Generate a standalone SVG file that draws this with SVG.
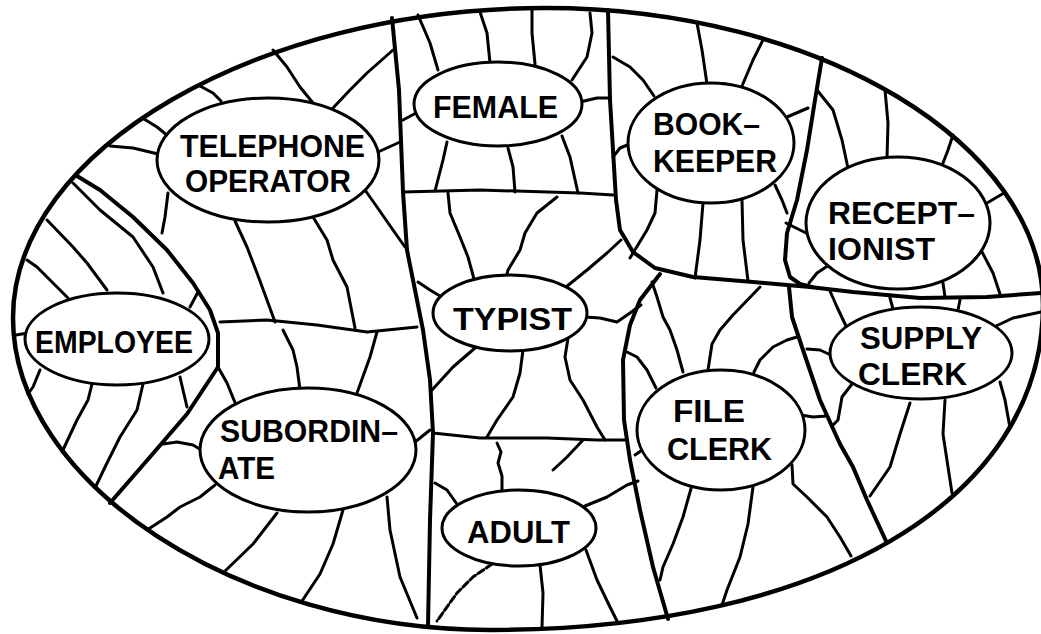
<svg xmlns="http://www.w3.org/2000/svg" width="1041" height="634" viewBox="0 0 1041 634">
<style>
.b{fill:none;stroke:#000;stroke-width:4;stroke-linejoin:round;stroke-linecap:round}
.c{fill:none;stroke:#000;stroke-width:3;stroke-linejoin:round;stroke-linecap:round}
.d{stroke-dasharray:7 3}
.n{fill:#fff;stroke:#000;stroke-width:3}
.t{font-family:"Liberation Sans",Arial,Helvetica,sans-serif;font-weight:bold;font-size:31px;fill:#000}
</style>
<rect width="1041" height="634" fill="#fff"/>
<g id="outline">
<path d="M13,318 C13,150 258,8 545,8 C820,8 1043,145 1043,305 C1043,500 822,630 490,630 C237,630 13,483 13,318 Z" fill="none" stroke="#000" stroke-width="4.5"/>
</g>
<g id="connectors">
<g id="boundaries">
<path class="b" d="M392,18 L399,90 L403,192 L407,250 L414,285 L423,330 L430,380 L433,433 L430,520 L428,626"/>
<path class="b" d="M608,10 L610,100 L613,150 L616,200 L620,230 L633,252 L655,268 L693,277 L753,282 L787,285 L810,287 L853,292 L920,298 L987,297 L1041,293"/>
<path class="b" d="M822,58 L815,100 L807,150 L797,200 L787,233 L785,260 L790,277 L800,284 L812,287"/>
<path class="b" d="M789,287 L792,317 L803,350 L820,400 L840,444 L853,467 L867,500 L886,541"/>
<path class="b" d="M660,274 L640,300 L630,325 L623,360 L624,420 L630,460 L640,510 L653,567 L668,619"/>
<path class="b" d="M77,176 L100,190 L133,217 L167,250 L193,283 L210,310 L218,333 L218,367 L187,414 L150,457 L110,503"/>
<path class="c" d="M220,322 L267,320 L317,325 L367,332 L417,327"/>
<path class="c" d="M403,192 L480,190 L580,193 L613,195"/>
<path class="c" d="M433,433 L480,438 L547,438 L597,440 L625,440"/>
</g>
<g id="cracks">
<path class="c" d="M273,50 L287,67 L300,87 L313,103"/>
<path class="c" d="M200,86 L213,93 L221,101"/>
<path class="c" d="M144,119 L157,127 L168,136"/>
<path class="c" d="M110,146 L133,148 L158,154"/>
<path class="c" d="M393,50 L367,73 L350,90 L333,108"/>
<path class="c" d="M378,152 L400,142"/>
<path class="c" d="M168,193 L165,217 L162,233"/>
<path class="c" d="M235,221 L247,247 L257,273 L267,300 L275,322"/>
<path class="c" d="M313,217 L327,240 L333,260 L347,287 L355,328"/>
<path class="c" d="M365,190 L377,207 L393,230 L405,247"/>
<path class="c" d="M73,183 L100,210 L133,237 L153,267 L163,293"/>
<path class="c" d="M47,220 L73,247 L87,263 L107,290"/>
<path class="c" d="M27,260 L37,267 L50,280 L68,298"/>
<path class="c" d="M190,307 L198,292"/>
<path class="c" d="M16,335 L28,333"/>
<path class="c" d="M40,370 L33,387 L28,394"/>
<path class="c" d="M92,384 L88,400 L77,420 L62,452"/>
<path class="c" d="M143,384 L137,410 L120,437 L107,463 L95,488"/>
<path class="c" d="M180,377 L183,390 L187,407"/>
<path class="c" d="M283,330 L293,350 L297,367 L300,390"/>
<path class="c" d="M377,332 L370,357 L357,393"/>
<path class="c" d="M218,367 L227,383 L236,405"/>
<path class="c" d="M163,444 L177,442 L193,445 L203,451"/>
<path class="c" d="M215,485 L200,497 L180,507 L167,517 L147,530"/>
<path class="c" d="M277,513 L253,544 L223,573"/>
<path class="c" d="M343,510 L333,544 L320,574 L302,601"/>
<path class="c" d="M387,497 L390,530 L400,577 L417,618"/>
<path class="c" d="M415,442 L430,430"/>
<path class="c" d="M418,15 L430,43 L438,70"/>
<path class="c" d="M480,12 L487,33 L490,63"/>
<path class="c" d="M532,10 L532,33 L535,64"/>
<path class="c" d="M590,13 L592,33 L587,57 L572,80"/>
<path class="c" d="M580,102 L597,98 L610,98"/>
<path class="c" d="M416,113 L403,120"/>
<path class="c" d="M447,142 L443,160 L435,191"/>
<path class="c" d="M508,148 L513,167 L515,192"/>
<path class="c" d="M562,136 L570,157 L578,193"/>
<path class="c" d="M613,57 L630,67 L643,80 L654,96"/>
<path class="c" d="M697,23 L702,50 L707,84"/>
<path class="c" d="M763,40 L753,60 L742,86"/>
<path class="c" d="M787,117 L808,108"/>
<path class="c" d="M613,157 L620,148 L630,144"/>
<path class="c" d="M657,190 L655,213 L647,230 L630,258"/>
<path class="c" d="M703,203 L700,240 L695,278"/>
<path class="c" d="M742,200 L743,240 L748,281"/>
<path class="c" d="M775,185 L782,200 L787,213"/>
<path class="c" d="M817,90 L833,110 L842,140 L849,173"/>
<path class="c" d="M885,90 L888,123 L887,158"/>
<path class="c" d="M953,135 L948,150 L943,163"/>
<path class="c" d="M987,203 L1004,193"/>
<path class="c" d="M981,250 L993,273 L1000,294"/>
<path class="c" d="M786,223 L800,230 L812,236"/>
<path class="c" d="M829,265 L817,273 L809,283"/>
<path class="c" d="M943,283 L945,297"/>
<path class="c" d="M890,298 L893,309"/>
<path class="c" d="M960,300 L958,310"/>
<path class="c" d="M830,291 L837,307 L846,326"/>
<path class="c" d="M996,326 L1013,318 L1041,312"/>
<path class="c" d="M797,337 L787,340 L773,347 L760,360 L754,372"/>
<path class="c" d="M807,349 L820,350 L833,356"/>
<path class="c" d="M852,384 L842,397 L838,420 L832,426"/>
<path class="c" d="M910,403 L900,434 L890,467 L870,496"/>
<path class="c" d="M945,400 L943,434 L948,467 L952,493"/>
<path class="c" d="M1000,382 L1005,400 L1010,428"/>
<path class="c" d="M627,352 L637,357 L647,370 L656,388"/>
<path class="c" d="M652,282 L657,297 L663,317 L670,330 L677,350 L683,372"/>
<path class="c" d="M760,287 L733,315 L720,330 L712,344 L708,370"/>
<path class="c" d="M801,415 L813,417 L827,416"/>
<path class="c" d="M645,448 L635,455"/>
<path class="c" d="M692,485 L683,517 L673,544 L663,567 L660,580"/>
<path class="c" d="M753,487 L748,524 L740,557 L727,590 L722,605"/>
<path class="c" d="M792,465 L793,484 L807,497 L827,517 L840,537 L851,556"/>
<path class="c" d="M448,193 L450,213 L460,237 L468,257 L474,279"/>
<path class="c" d="M557,197 L537,213 L525,233 L520,250 L508,270 L506,278"/>
<path class="c" d="M418,282 L430,290 L445,299"/>
<path class="c" d="M566,287 L587,270 L607,253 L621,240"/>
<path class="c" d="M585,317 L600,318 L617,322 L630,313 L641,305"/>
<path class="c" d="M475,348 L453,367 L432,390"/>
<path class="c" d="M523,350 L520,373 L513,397 L497,420 L487,437"/>
<path class="c" d="M568,338 L565,357 L570,380 L583,400 L597,427 L605,440"/>
<path class="c" d="M497,443 L501,452 L498,463 L502,476 L502,491"/>
<path class="c" d="M553,470 L567,457 L583,440"/>
<path class="c" d="M435,483 L447,490 L459,507"/>
<path class="c" d="M585,506 L607,497 L627,485 L638,481"/>
<path class="c d" d="M492,564 L473,577 L457,593 L437,621"/>
<path class="c" d="M540,565 L543,593 L542,627"/>
<path class="c" d="M586,550 L597,580 L610,607 L618,623"/>
</g>
</g>
<g id="telephone-operator">
<ellipse class="n" cx="268" cy="160" rx="111" ry="62"/>
<text class="t" x="180" y="157" textLength="185" lengthAdjust="spacingAndGlyphs">TELEPHONE</text>
<text class="t" x="185" y="192" textLength="166" lengthAdjust="spacingAndGlyphs">OPERATOR</text>
</g>
<g id="female">
<ellipse class="n" cx="498" cy="104" rx="84" ry="42"/>
<text class="t" x="433" y="118" textLength="125" lengthAdjust="spacingAndGlyphs">FEMALE</text>
</g>
<g id="bookkeeper">
<ellipse class="n" cx="711" cy="143" rx="83" ry="60"/>
<text class="t" x="653" y="135" textLength="107" lengthAdjust="spacingAndGlyphs">BOOK–</text>
<text class="t" x="653" y="172" textLength="124" lengthAdjust="spacingAndGlyphs">KEEPER</text>
</g>
<g id="receptionist">
<ellipse class="n" cx="898" cy="223" rx="92" ry="66"/>
<text class="t" x="828" y="224" textLength="147" lengthAdjust="spacingAndGlyphs">RECEPT–</text>
<text class="t" x="828" y="260" textLength="107" lengthAdjust="spacingAndGlyphs">IONIST</text>
</g>
<g id="employee">
<ellipse class="n" cx="117" cy="339" rx="92" ry="46"/>
<text class="t" x="35" y="353" textLength="158" lengthAdjust="spacingAndGlyphs">EMPLOYEE</text>
</g>
<g id="typist">
<ellipse class="n" cx="510" cy="313" rx="77" ry="38"/>
<text class="t" x="453" y="330" textLength="119" lengthAdjust="spacingAndGlyphs">TYPIST</text>
</g>
<g id="subordinate">
<ellipse class="n" cx="308" cy="450" rx="108" ry="62"/>
<text class="t" x="220" y="442" textLength="178" lengthAdjust="spacingAndGlyphs">SUBORDIN–</text>
<text class="t" x="218" y="479" textLength="57" lengthAdjust="spacingAndGlyphs">ATE</text>
</g>
<g id="adult">
<ellipse class="n" cx="519" cy="528" rx="77" ry="38"/>
<text class="t" x="467" y="543" textLength="103" lengthAdjust="spacingAndGlyphs">ADULT</text>
</g>
<g id="file-clerk">
<ellipse class="n" cx="721" cy="430" rx="84" ry="60"/>
<text class="t" x="673" y="422" textLength="72" lengthAdjust="spacingAndGlyphs">FILE</text>
<text class="t" x="667" y="460" textLength="105" lengthAdjust="spacingAndGlyphs">CLERK</text>
</g>
<g id="supply-clerk">
<ellipse class="n" cx="921" cy="353" rx="91" ry="46"/>
<text class="t" x="860" y="349" textLength="122" lengthAdjust="spacingAndGlyphs">SUPPLY</text>
<text class="t" x="858" y="385" textLength="109" lengthAdjust="spacingAndGlyphs">CLERK</text>
</g>
</svg>
